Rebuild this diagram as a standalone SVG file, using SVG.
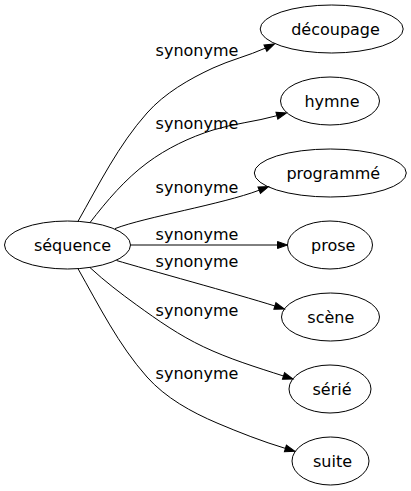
<svg xmlns="http://www.w3.org/2000/svg" width="411" height="491" viewBox="0 0 411 491">
<style>
.node ellipse{fill:none;stroke:#000;stroke-width:1}
.edge path{fill:none;stroke:#000;stroke-width:1}
text{font-family:"DejaVu Sans","Liberation Sans",sans-serif;font-size:16px;fill:#000;text-anchor:middle}
</style>
<defs>
<marker id="arr" markerUnits="userSpaceOnUse" markerWidth="10" markerHeight="7" viewBox="0 0 10 7" refX="0" refY="3.5" orient="auto" overflow="visible">
<path d="M0,0 L10,3.5 L0,7 z" fill="#000" stroke="#000" stroke-width="1"/>
</marker>
</defs>
<rect width="411" height="491" fill="#fff"/>
<g id="edges">
<g class="edge" id="e-decoupage">
<path marker-end="url(#arr)" d="M78,221.3 C99.2,183.9 118.6,144.9 147,113 C164.7,93.1 188.9,79.2 213,68 C230,60.1 248.4,55.8 265.4,48.1"/>
<text x="197" y="56">synonyme</text>
</g>
<g class="edge" id="e-hymne">
<path marker-end="url(#arr)" d="M90,222.6 C107,200.6 125.1,179.3 147,163 C166.7,148.3 189.5,137.4 213,130 C233.8,123.5 255.9,121.6 276.9,115.7"/>
<text x="197" y="129">synonyme</text>
</g>
<g class="edge" id="e-programme">
<path marker-end="url(#arr)" d="M115,228.6 C145,217 221.8,204.4 259.2,190.2"/>
<text x="197" y="193">synonyme</text>
</g>
<g class="edge" id="e-prose">
<path marker-end="url(#arr)" d="M130.5,245 L277.5,245"/>
<text x="197" y="240">synonyme</text>
</g>
<g class="edge" id="e-scene">
<path marker-end="url(#arr)" d="M116.5,260.5 C145,269 236.7,294 274.9,306"/>
<text x="197" y="267">synonyme</text>
</g>
<g class="edge" id="e-serie">
<path marker-end="url(#arr)" d="M90,267.6 C104.9,281.4 120.7,293.4 136.7,305 C157.9,320.4 179.6,335.5 203.3,346.7 C229,358.9 256.4,367.3 283.5,376"/>
<text x="197" y="315.5">synonyme</text>
</g>
<g class="edge" id="e-suite">
<path marker-end="url(#arr)" d="M78,268.7 C99.2,306.1 118.6,345.1 147,377 C165.6,397.8 191.3,412.1 217,423 C239.4,432.5 262.1,441.4 285.4,448.4"/>
<text x="197" y="379">synonyme</text>
</g>
</g>
<g class="node" id="n-sequence"><ellipse cx="67.5" cy="245" rx="63" ry="24"/><text x="72.5" y="250.5">séquence</text></g>
<g class="node" id="n-decoupage"><ellipse cx="331.7" cy="29" rx="71.5" ry="24"/><text x="335.5" y="34.5">découpage</text></g>
<g class="node" id="n-hymne"><ellipse cx="330" cy="101" rx="49.5" ry="24"/><text x="332" y="106.5">hymne</text></g>
<g class="node" id="n-programme"><ellipse cx="330.3" cy="173" rx="76" ry="24"/><text x="333.3" y="178.5">programmé</text></g>
<g class="node" id="n-prose"><ellipse cx="330" cy="245" rx="42.5" ry="24"/><text x="333.3" y="250.5">prose</text></g>
<g class="node" id="n-scene"><ellipse cx="330.5" cy="317" rx="49" ry="24"/><text x="330.8" y="322.5">scène</text></g>
<g class="node" id="n-serie"><ellipse cx="330" cy="389" rx="41" ry="24"/><text x="332" y="394.5">sérié</text></g>
<g class="node" id="n-suite"><ellipse cx="330.5" cy="461" rx="38.5" ry="24"/><text x="332.5" y="466.5">suite</text></g>
</svg>
